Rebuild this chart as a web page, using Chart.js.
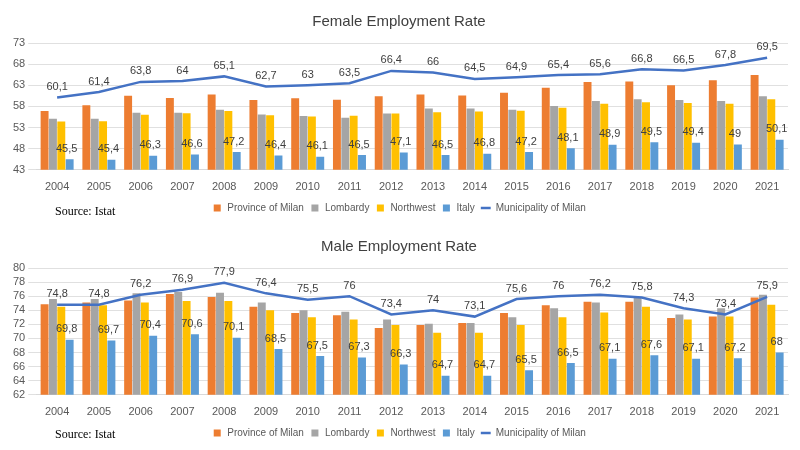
<!DOCTYPE html>
<html>
<head>
<meta charset="utf-8">
<script src="https://cdn.jsdelivr.net/npm/chart.js@4/dist/chart.umd.min.js"></script>
<style>
  body { margin: 0; background: #fff; width: 800px; height: 450px; position: relative; overflow: hidden; }
  .box { position: absolute; left: 0; width: 800px; height: 225px; }
  .src { position: absolute; left: 55px; font: 12px "Liberation Serif", serif; color: #000; }
</style>
</head>
<body>
<div class="box" style="top:0"><canvas id="female"></canvas></div>
<div class="box" style="top:225px"><canvas id="male"></canvas></div>
<div class="src" style="top:204px">Source: Istat</div>
<div class="src" style="top:427px">Source: Istat</div>
<script>
const years = ['2004','2005','2006','2007','2008','2009','2010','2011','2012','2013','2014','2015','2016','2017','2018','2019','2020','2021'];

// Female employment rate
const femaleProvince = [56.9,58.3,60.5,60.0,60.8,59.5,59.9,59.6,60.4,60.8,60.6,61.2,62.4,63.8,63.9,63.0,64.2,65.4];
const femaleLombardy = [55.1,55.1,56.5,56.5,57.2,56.1,55.7,55.3,56.3,57.5,57.5,57.2,58.1,59.3,59.7,59.5,59.3,60.4];
const femaleNorthwest = [54.4,54.5,56.0,56.4,56.9,55.9,55.6,55.8,56.3,56.6,56.8,57.0,57.7,58.6,59.0,58.8,58.6,59.7];
const femaleItaly = [45.5,45.4,46.3,46.6,47.2,46.4,46.1,46.5,47.1,46.5,46.8,47.2,48.1,48.9,49.5,49.4,49,50.1];
const femaleMunicipality = [60.1,61.4,63.8,64,65.1,62.7,63,63.5,66.4,66,64.5,64.9,65.4,65.6,66.8,66.5,67.8,69.5];

// Male employment rate
const maleProvince = [74.85,75.1,75.4,76.3,75.9,74.5,73.6,73.3,71.5,71.9,72.2,73.6,74.7,75.2,75.2,72.9,73.1,75.8];
const maleLombardy = [75.6,75.6,76.4,76.6,76.5,75.1,74.0,73.8,72.7,72.1,72.2,73.0,74.3,75.1,75.8,73.4,74.3,76.2];
const maleNorthwest = [74.5,74.7,75.1,75.3,75.3,74.0,73.0,72.7,71.9,70.8,70.8,71.9,73.0,73.7,74.5,72.7,73.1,74.8];
const maleItaly = [69.8,69.7,70.4,70.6,70.1,68.5,67.5,67.3,66.3,64.7,64.7,65.5,66.5,67.1,67.6,67.1,67.2,68];
const maleMunicipality = [74.8,74.8,76.2,76.9,77.9,76.4,75.5,76,73.4,74,73.1,75.6,76,76.2,75.8,74.3,73.4,75.9];

const fmt = v => String(v).replace('.', ',');

// draws value labels for Italy bars and the Municipality line
const valueLabels = {
    id: 'valueLabels',
    afterDatasetsDraw(chart) {
        const ctx = chart.ctx;
        ctx.save();
        ctx.font = '11px "Liberation Sans", Arial, sans-serif';
        ctx.fillStyle = '#404040';
        ctx.textAlign = 'center';
        ctx.textBaseline = 'bottom';
        [3, 4].forEach(i => {
            const meta = chart.getDatasetMeta(i);
            const data = chart.data.datasets[i].data;
            meta.data.forEach((el, j) => {
                const dx = i === 3 ? -3 : 0;
                ctx.fillText(fmt(data[j]), el.x + dx, el.y - 5);
            });
        });
        ctx.restore();
    }
};

function makeChart(id, title, province, lombardy, northwest, italy, municipality, min, max, step) {
    return new Chart(document.getElementById(id), {
        type: 'bar',
        data: {
            labels: years,
            datasets: [
                { label: 'Province of Milan', data: province, backgroundColor: '#ED7D31', order: 1 },
                { label: 'Lombardy', data: lombardy, backgroundColor: '#A5A5A5', order: 1 },
                { label: 'Northwest', data: northwest, backgroundColor: '#FFC000', order: 1 },
                { label: 'Italy', data: italy, backgroundColor: '#5B9BD5', order: 1 },
                { label: 'Municipality of Milan', data: municipality, type: 'line', borderColor: '#4472C4',
                  backgroundColor: '#4472C4', borderWidth: 2.5, pointRadius: 0, tension: 0, order: 0 }
            ]
        },
        options: {
            responsive: true,
            maintainAspectRatio: false,
            animation: false,
            datasets: { bar: { categoryPercentage: 0.8, barPercentage: 0.95 } },
            layout: { padding: { left: 10, right: 12, top: 0, bottom: 2 } },
            plugins: {
                title: { display: true, text: title, color: '#404040',
                         font: { size: 15, family: 'Liberation Sans, Arial, sans-serif', weight: 'normal' },
                         padding: { top: 13, bottom: 12 } },
                legend: {
                    position: 'bottom',
                    labels: { usePointStyle: true, boxWidth: 22, boxHeight: 7, color: '#595959', padding: 6,
                              font: { size: 10, family: 'Liberation Sans, Arial, sans-serif' },
                              generateLabels(chart) {
                                  return chart.data.datasets.map((ds, i) => ({
                                      text: ds.label, fillStyle: ds.backgroundColor, strokeStyle: ds.backgroundColor,
                                      lineWidth: ds.type === 'line' ? 2.5 : 0,
                                      pointStyle: ds.type === 'line' ? 'line' : 'rect',
                                      datasetIndex: i, fontColor: '#595959'
                                  }));
                              } }
                },
                tooltip: { enabled: false }
            },
            scales: {
                x: { grid: { display: false }, border: { color: '#d9d9d9' },
                     ticks: { color: '#595959', font: { size: 11, family: 'Liberation Sans, Arial, sans-serif' }, maxRotation: 0 } },
                y: { min: min, max: max, grid: { color: '#e0e0e0' }, border: { display: false },
                     ticks: { stepSize: step, autoSkip: false, color: '#595959', font: { size: 11, family: 'Liberation Sans, Arial, sans-serif' } } }
            }
        },
        plugins: [valueLabels]
    });
}

makeChart('female', 'Female Employment Rate', femaleProvince, femaleLombardy, femaleNorthwest, femaleItaly, femaleMunicipality, 43, 73, 5);
makeChart('male', 'Male Employment Rate', maleProvince, maleLombardy, maleNorthwest, maleItaly, maleMunicipality, 62, 80, 2);
</script>
</body>
</html>
